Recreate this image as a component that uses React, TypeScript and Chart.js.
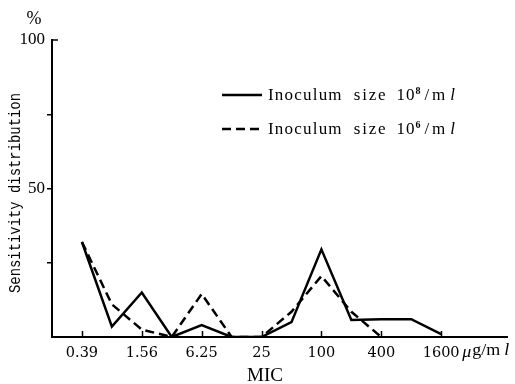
import React, { useEffect, useRef } from 'react';
import { Chart, registerables } from 'chart.js';

Chart.register(...registerables);

// MIC dilution steps (µg/ml)
const micLabels = ['0.39', '0.78', '1.56', '3.13', '6.25', '12.5', '25', '50', '100', '200', '400', '800', '1600'];
// Sensitivity distribution (%) per inoculum size
const inoculum8 = [32, 3.5, 15, 0, 4, 0, 0, 5, 29.5, 5.7, 6, 6, 1];
const inoculum6: (number | null)[] = [32, 11, 2.5, 0, 14.5, 0, 0, 8.5, 20.5, 8.5, 0, null, null];
// y ticks, and which of them carry a label
const yTicks = [0, 25, 50, 75, 100];
const yLabelled = [50, 100];
// x axis: every second dilution is labelled
const xLabelStep = 2;

const legendItems = [
  { exp: '8', dash: [] as number[] },
  { exp: '6', dash: [9, 5] },
];

const SERIF = '"Liberation Serif", "DejaVu Serif", serif';

// Draws text, optionally squeezed to span `width` pixels; returns the drawn width
function drawText(
  ctx: CanvasRenderingContext2D,
  text: string,
  x: number,
  y: number,
  font: string,
  opts: { width?: number; align?: CanvasTextAlign; rot?: number; spacing?: number } = {}
) {
  ctx.save();
  ctx.font = font;
  (ctx as any).letterSpacing = `${opts.spacing ?? 0}px`;
  const natural = ctx.measureText(text).width || 1;
  const sx = opts.width ? opts.width / natural : 1;
  ctx.translate(x, y);
  ctx.rotate(opts.rot ?? 0);
  ctx.scale(sx, 1);
  ctx.textAlign = opts.align ?? 'left';
  ctx.textBaseline = 'middle';
  ctx.fillText(text, 0, 0);
  ctx.restore();
  return natural * sx;
}

const decorations = {
  id: 'decorations',
  afterDraw(chart: any) {
    const { ctx, chartArea, scales } = chart;
    const xs = scales.x;
    const ys = scales.y;
    ctx.save();
    ctx.fillStyle = '#000';
    ctx.strokeStyle = '#000';

    // inward tick marks on the x axis
    ctx.lineWidth = 1.5;
    xs.ticks.forEach((t: any) => {
      const px = Math.round(xs.getPixelForValue(t.value)) + 0.5;
      ctx.beginPath();
      ctx.moveTo(px, chartArea.bottom);
      ctx.lineTo(px, chartArea.bottom - 6);
      ctx.stroke();
    });
    // cap at the top of the y axis
    const topPx = ys.getPixelForValue(100);
    ctx.beginPath();
    ctx.moveTo(chartArea.left, topPx);
    ctx.lineTo(chartArea.left + 6, topPx);
    ctx.stroke();

    // unit marks and axis titles
    drawText(ctx, '%', 34, 19, `19px ${SERIF}`, { width: 15, align: 'center' });
    drawText(ctx, 'Sensitivity distribution', 15, 193, `17px "Liberation Mono", monospace`, {
      width: 200,
      align: 'center',
      rot: -Math.PI / 2,
    });
    drawText(ctx, 'MIC', 265, 376, `18px ${SERIF}`, { width: 36, align: 'center' });

    const lastPx = xs.getPixelForValue(micLabels.length - 1);
    const uy = 351;
    drawText(ctx, 'μ', lastPx + 21, uy + 2, `italic 17px ${SERIF}`, { width: 9 });
    drawText(ctx, 'g/m', lastPx + 31, uy, `17px ${SERIF}`, { width: 28 });
    drawText(ctx, 'l', lastPx + 63, uy, `italic 17px ${SERIF}`, { width: 5 });

    // legend
    const lx = 222;
    const ly = 95;
    const gap = 34;
    legendItems.forEach((item, i) => {
      const y = ly + i * gap;
      ctx.lineWidth = 2.5;
      ctx.setLineDash(item.dash);
      ctx.beginPath();
      ctx.moveTo(lx, y);
      ctx.lineTo(lx + 40, y);
      ctx.stroke();
      ctx.setLineDash([]);
      let tx = lx + 46;
      const ty = y + 1;
      const f = `17px ${SERIF}`;
      tx += drawText(ctx, 'Inoculum', tx, ty, f, { spacing: 1.2 }) + 11;
      tx += drawText(ctx, 'size', tx, ty, f, { spacing: 1.8 }) + 9;
      tx += drawText(ctx, '10', tx, ty, f, { spacing: 1 });
      tx += drawText(ctx, item.exp, tx, ty - 5, `bold 10px ${SERIF}`) + 4;
      tx += drawText(ctx, '/', tx, ty, f) + 3;
      tx += drawText(ctx, 'm', tx, ty, f) + 5;
      drawText(ctx, 'l', tx, ty, `italic 17px ${SERIF}`);
    });
    ctx.restore();
  },
};

export default function App() {
  const canvasRef = useRef<HTMLCanvasElement | null>(null);

  useEffect(() => {
    const canvas = canvasRef.current;
    if (!canvas) return;
    const toPoints = (arr: (number | null)[]) => arr.map((v, i) => ({ x: i, y: v }));

    const chart = new Chart(canvas, {
      type: 'line',
      data: {
        datasets: [
          {
            label: 'Inoculum size 10⁸/ml',
            data: toPoints(inoculum8) as any,
            borderColor: '#000',
            borderWidth: 2.5,
            pointRadius: 0,
            tension: 0,
            spanGaps: false,
          },
          {
            label: 'Inoculum size 10⁶/ml',
            data: toPoints(inoculum6) as any,
            borderColor: '#000',
            borderWidth: 2.5,
            borderDash: [9, 5],
            pointRadius: 0,
            tension: 0,
            spanGaps: false,
          },
        ],
      },
      options: {
        responsive: false,
        animation: false,
        layout: { padding: { top: 40, right: 8, left: 0, bottom: 0 } },
        plugins: {
          legend: { display: false },
          tooltip: { enabled: false },
        },
        scales: {
          x: {
            type: 'linear',
            min: -1,
            max: 14.2,
            afterBuildTicks: (scale: any) => {
              scale.ticks = micLabels
                .map((_, i) => i)
                .filter((i) => i % xLabelStep === 0)
                .map((i) => ({ value: i }));
            },
            afterFit: (scale: any) => {
              scale.height = 47;
              scale.paddingLeft = 0;
              scale.paddingRight = 0;
            },
            grid: { display: false },
            border: { display: true, color: '#000', width: 2 },
            ticks: {
              autoSkip: false,
              maxRotation: 0,
              padding: 0,
              color: '#000',
              font: { family: '"DejaVu Serif", serif', size: 14.5 },
              callback: (v: any) => micLabels[Math.round(Number(v))] ?? '',
            },
          },
          y: {
            type: 'linear',
            min: 0,
            max: 100,
            afterBuildTicks: (scale: any) => {
              scale.ticks = yTicks.map((v) => ({ value: v }));
            },
            afterFit: (scale: any) => {
              scale.width = 52;
              scale.paddingTop = 0;
              scale.paddingBottom = 0;
            },
            grid: {
              display: true,
              drawOnChartArea: false,
              drawTicks: true,
              tickLength: 5,
              lineWidth: 1.5,
              color: (c: any) =>
                c.tick && (c.tick.value === 0 || c.tick.value === 100) ? 'rgba(0,0,0,0)' : '#000',
            },
            border: { display: true, color: '#000', width: 2 },
            ticks: {
              padding: 2,
              color: '#000',
              font: { family: SERIF, size: 17 },
              callback: (v: any) => (yLabelled.includes(Number(v)) ? String(v) : ''),
            },
          },
        },
      },
      plugins: [decorations],
    });

    return () => chart.destroy();
  }, []);

  return (
    <div style={{ position: 'fixed', left: 0, top: 0, width: 515, height: 384, background: '#fff' }}>
      <canvas ref={canvasRef} width={515} height={384} />
    </div>
  );
}
